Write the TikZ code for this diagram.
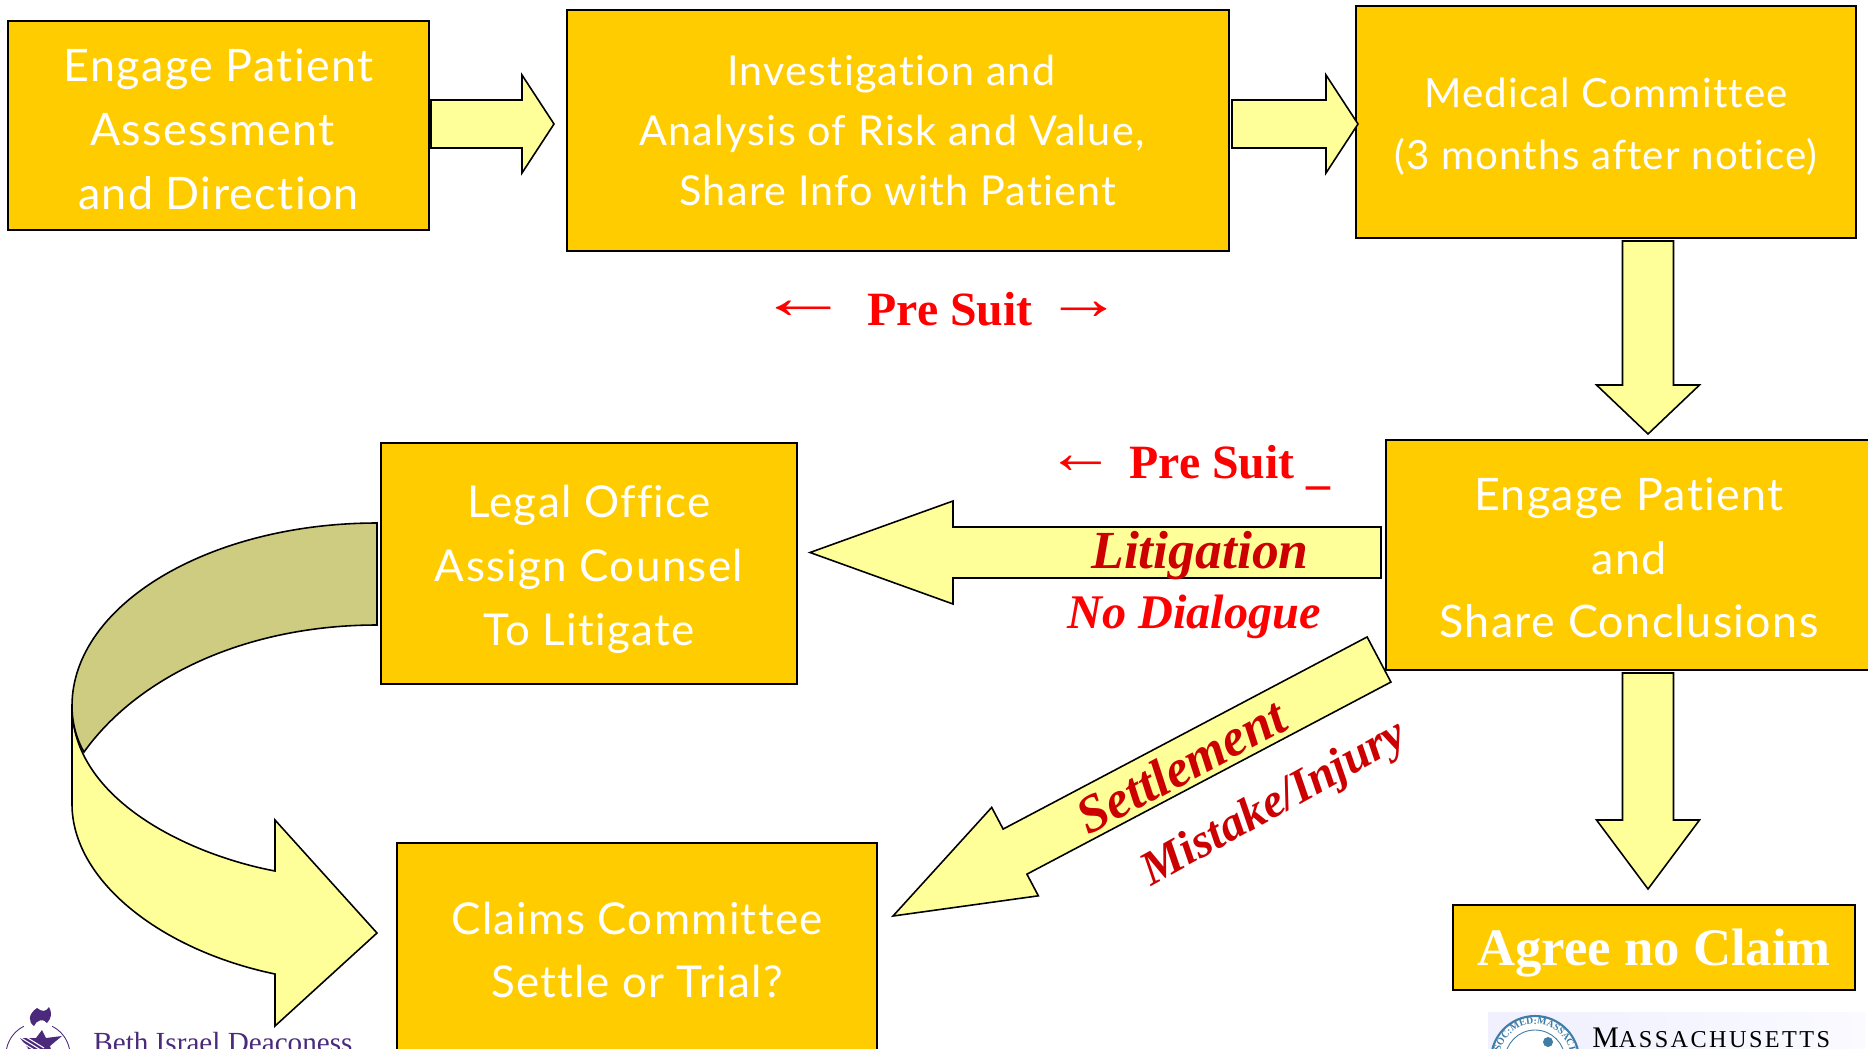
\documentclass[tikz,border=0pt]{standalone}
\usepackage{fontspec}
\usetikzlibrary{calc,decorations.text}
\setmainfont{Liberation Serif}
\newfontfamily\boxfont{Lato}[LetterSpace=3,Ligatures=NoCommon]
\newfontfamily\sealfont{Liberation Serif}[LetterSpace=10]
\definecolor{boxgold}{HTML}{FFCC00}
\definecolor{palearrow}{HTML}{FFFF99}
\definecolor{shadearrow}{HTML}{CDCC80}
\definecolor{darkred}{HTML}{CC0000}
\definecolor{bethpurple}{HTML}{4B2A7B}
\definecolor{sealblue}{HTML}{3F7CA6}
\tikzset{
	stepbox/.style={draw=black,line width=0.9pt,fill=boxgold,text=white,align=center,inner sep=0pt,font=\boxfont\fontsize{25}{36.3}\selectfont},
	fatarrow/.style={draw=black,line width=0.9pt,fill=palearrow,line join=miter},
	redlabel/.style={text=red,font=\bfseries\fontsize{27.2}{30}\selectfont,inner sep=0pt,anchor=base},
	litlabel/.style={text=darkred,font=\bfseries\itshape\fontsize{30.5}{32}\selectfont,inner sep=0pt},
	sidearrow/.style={text=red,inner sep=0pt,font=\fontsize{25}{30}\selectfont}
}
% start, tip, half shaft, half head, head length
\newcommand{\blockarrow}[5]{
	\draw[fatarrow] ($(#1)!#3!90:(#2)$)--($($(#2)!#5!(#1)$)!#3!90:(#2)$)--($($(#2)!#5!(#1)$)!#4!90:(#2)$)
		--(#2)--($($(#2)!#5!(#1)$)!#4!-90:(#2)$)--($($(#2)!#5!(#1)$)!#3!-90:(#2)$)--($(#1)!#3!-90:(#2)$)--cycle;
}
\newcommand{\firstline}[1]{\rule{0pt}{#1}}
\newcommand{\nudge}[2]{\hbox{\kern-#1\relax #2\kern#1\relax}}
\begin{document}
\begin{tikzpicture}[x=0.02cm,y=-0.02cm]
	\useasboundingbox (0,0) rectangle (1868,1048);
	% boxes
	\node[stepbox,minimum width=8.42cm,minimum height=4.18cm,font=\boxfont\fontsize{25.5}{36.5}\selectfont] (engage) at (218.5,125.5) {\firstline{23pt}Engage Patient\\\nudge{3.4pt}{Assessment}\\and Direction};
	\node[stepbox,minimum width=13.24cm,minimum height=4.82cm,font=\boxfont\fontsize{23.5}{34.3}\selectfont] (invest) at (898,130.5) {\nudge{3.8pt}{Investigation and}\\\nudge{3.4pt}{Analysis of Risk and Value,}\\Share Info with Patient};
	\node[stepbox,minimum width=10cm,minimum height=4.64cm,font=\boxfont\fontsize{22.9}{35}\selectfont] (medical) at (1606,122) {\firstline{22pt}Medical Committee\\(3 months after notice)};
	\node[stepbox,minimum width=9.72cm,minimum height=4.6cm,font=\boxfont\fontsize{25.5}{36.3}\selectfont] (share) at (1629,555) {\firstline{22pt}Engage Patient\\and\\Share Conclusions};
	\node[stepbox,minimum width=8.32cm,minimum height=4.82cm] (legal) at (589,563.5) {\firstline{25pt}Legal Office\\Assign Counsel\\To Litigate};
	\node[stepbox,minimum width=9.6cm,minimum height=4.28cm] (claims) at (637,950) {Claims Committee\\Settle or Trial?};
	\node[stepbox,minimum width=8.04cm,minimum height=1.7cm,text depth=0pt,font=\bfseries\fontsize{30}{36}\selectfont] (noclaim) at (1654,947.5) {Agree no Claim};
	% straight arrows
	\coordinate (a1s) at (431,124); \coordinate (a1e) at (554,124);
	\coordinate (a2s) at (1232,124); \coordinate (a2e) at (1358,124);
	\coordinate (d1s) at (1648,241); \coordinate (d1e) at (1648,434);
	\coordinate (d2s) at (1648,673); \coordinate (d2e) at (1648,889);
	\coordinate (lits) at (1381,552.5); \coordinate (lite) at (810,552.5);
	\coordinate (sets) at (1379,659.5); \coordinate (sete) at (893,916);
	\blockarrow{a1s}{a1e}{0.48cm}{0.98cm}{0.64cm}
	\blockarrow{a2s}{a2e}{0.48cm}{0.98cm}{0.64cm}
	\blockarrow{d1s}{d1e}{0.51cm}{1.03cm}{0.98cm}
	\blockarrow{d2s}{d2e}{0.51cm}{1.03cm}{1.38cm}
	\blockarrow{lits}{lite}{0.51cm}{1.03cm}{2.86cm}
	\blockarrow{sets}{sete}{0.51cm}{1cm}{2.76cm}
	% curved arrow
	\draw[fatarrow] (72,706)--(72,804) .. controls (72,880) and (160,950) .. (275,974)--(275,1026)--(377,933)--(275,820)--(275,871) .. controls (190,855) and (72,800) .. (72,706)--cycle;
	\draw[fatarrow,fill=shadearrow] (377,523) .. controls (209,523) and (72,605) .. (72,706) .. controls (72,722) and (76,738) .. (84,752) .. controls (140,674) and (250,625) .. (377,625)--cycle;
	% labels
	\node[redlabel] (presuita) at (950,325) {Pre Suit};
	\node[sidearrow,xscale=2.1,yscale=1.4] (arrowl) at (804,310) {←};
	\node[sidearrow,xscale=1.75,yscale=1.4] (arrowr) at (1084,311) {→};
	\node[redlabel] (presuitb) at (1212,478) {Pre Suit};
	\node[sidearrow,xscale=1.57,yscale=1.4] (arrowb) at (1081,465) {←};
	\node[redlabel] (dash) at (1318,483) {\_};
	\node[litlabel,anchor=base] (lit) at (1200,568) {Litigation};
	\node[redlabel,font=\bfseries\itshape\fontsize{27.5}{30}\selectfont] (nodial) at (1194,628) {No Dialogue};
	\node[litlabel,rotate=28,font=\bfseries\itshape\fontsize{30}{32}\selectfont] (settle) at (1181,766) {Settlement};
	\node[litlabel,rotate=29,font=\bfseries\itshape\fontsize{27.2}{30}\selectfont] (mistake) at (1275,805) {Mistake/Injury};
	% logos
	\draw[bethpurple,line width=0.5pt] (38,1055) circle (32);
	\fill[white] (24,1020) rectangle (52,1027);
	\fill[bethpurple] (37,1008) .. controls (28,1014) and (28,1022) .. (34,1026) .. controls (36,1020) and (44,1018) .. (47,1023) .. controls (52,1018) and (52,1012) .. (49,1007) .. controls (46,1012) and (42,1012) .. (37,1008)--cycle;
	\fill[bethpurple] (20,1038)--(36,1038)--(42,1030)--(46,1038)--(62,1036)--(50,1046)--(54,1060)--(24,1060)--(28,1048)--cycle;
	\foreach \s in {0,4,8} \draw[white,line width=0.6pt] (18,1032+\s)--(44,1048+\s);
	\node[text=bethpurple,font=\fontsize{16.6}{18}\selectfont,inner sep=0pt,anchor=base west] (beth) at (93,1052) {Beth Israel Deaconess};
	\shade[left color=black!2!blue!6!white,right color=blue!2!white] (1488,1012) rectangle (1865,1048);
	\draw[sealblue,line width=1.2pt,fill=white] (1535,1060) circle (44);
	\draw[sealblue,line width=0.5pt] (1535,1060) circle (30);
	\path[postaction={decorate,decoration={text along path,text={|\fontsize{5.6}{7}\selectfont\bfseries\color{sealblue}|:SOC:MED:MASSACH},text align=center}}] (1535,1060)+(180:36) arc (180:360:36);
	\fill[sealblue] (1548,1042) circle (5);
	\node[text=black,inner sep=0pt,anchor=base west] (mass) at (1592,1047) {\sealfont{\fontsize{17}{18}\selectfont M}{\fontsize{13.8}{18}\selectfont ASSACHUSETTS}};
\end{tikzpicture}
\end{document}
